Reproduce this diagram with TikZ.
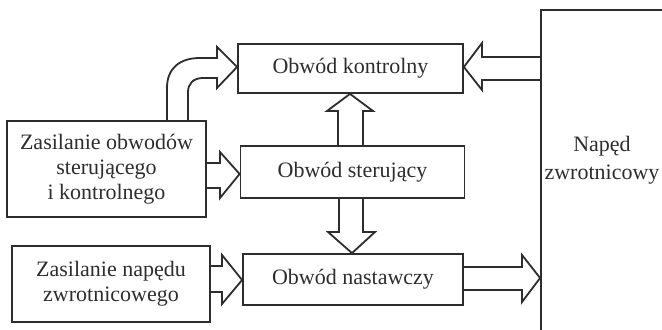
\documentclass[tikz,border=0pt]{standalone}
\usepackage{fontspec}
\setmainfont{Liberation Serif}
\usetikzlibrary{calc}
\definecolor{ink}{RGB}{45,45,45}
\begin{document}
\begin{tikzpicture}[x=0.5pt,y=-0.5pt,
  box/.style={draw=ink, line width=0.9pt, inner sep=0pt, align=center, text=ink,
              font=\fontsize{11}{12.5}\selectfont},
  txt/.style={inner sep=0pt, align=center, text=ink, font=\fontsize{11}{14}\selectfont},
  blk/.style={draw=ink, line width=0.9pt, line join=miter}]
\useasboundingbox (0,0) rectangle (662,330);
\begin{scope}
\clip (0,0) rectangle (662,330);
\node[box, minimum width=62pt, minimum height=161pt] (nap) at (603,171) {};
\end{scope}
\node[txt] (naptxt) at (602,160) {Napęd\\zwrotnicowy};

\node[box, minimum width=112.5pt, minimum height=24.5pt] (kon) at (350.5,68.5) {Obwód kontrolny};
\node[box, minimum width=112pt, minimum height=26pt] (ste) at (352.5,172) {Obwód sterujący};
\node[box, minimum width=110pt, minimum height=25.5pt] (nas) at (353,279.5) {Obwód nastawczy};
\node[box, minimum width=99.5pt, minimum height=48pt] (zo) at (106.5,169) {Zasilanie obwodów\\sterującego\\i kontrolnego};
\node[box, minimum width=99pt, minimum height=38pt] (zn) at (111,284) {Zasilanie napędu\\zwrotnicowego};

% curved arrow zo -> kon
\draw[blk] (zo.north -| 167,0) -- (167,88) .. controls (167,68) and (180,58) .. (200,58)
  -- (217,58) -- (217,47) -- (kon.west |- 0,67) -- (217,88) -- (217,78) -- (203,78)
  .. controls (193,78) and (188,84) .. (188,92) -- (zo.north -| 188,0);

% nap -> kon
\draw[blk] (nap.west |- 0,57) -- (482,57) -- (482,43) -- (kon.east |- 0,67)
  -- (482,90) -- (482,80) -- (nap.west |- 0,80);

% ste -> kon (up)
\draw[blk] (ste.north -| 338,0) -- (338,111) -- (327,111) -- (kon.south -| 350,0)
  -- (373,111) -- (363,111) -- (ste.north -| 363,0);

% ste -> nas (down)
\draw[blk] (ste.south -| 339,0) -- (339,232) -- (328,232) -- (nas.north -| 352,0)
  -- (375,232) -- (363,232) -- (ste.south -| 363,0);

% zo -> ste
\draw[blk] (zo.east |- 0,163) -- (220,163) -- (220,152) -- (ste.west |- 0,174)
  -- (220,198) -- (220,188) -- (zo.east |- 0,188);

% zn -> nas
\draw[blk] (zn.east |- 0,266) -- (222,266) -- (222,255) -- (nas.west |- 0,280)
  -- (222,304) -- (222,292) -- (zn.east |- 0,292);

% nas -> nap
\draw[blk] (nas.east |- 0,267) -- (522,267) -- (522,255) -- (nap.west |- 0,278)
  -- (522,302) -- (522,290) -- (nas.east |- 0,290);
\end{tikzpicture}
\end{document}
